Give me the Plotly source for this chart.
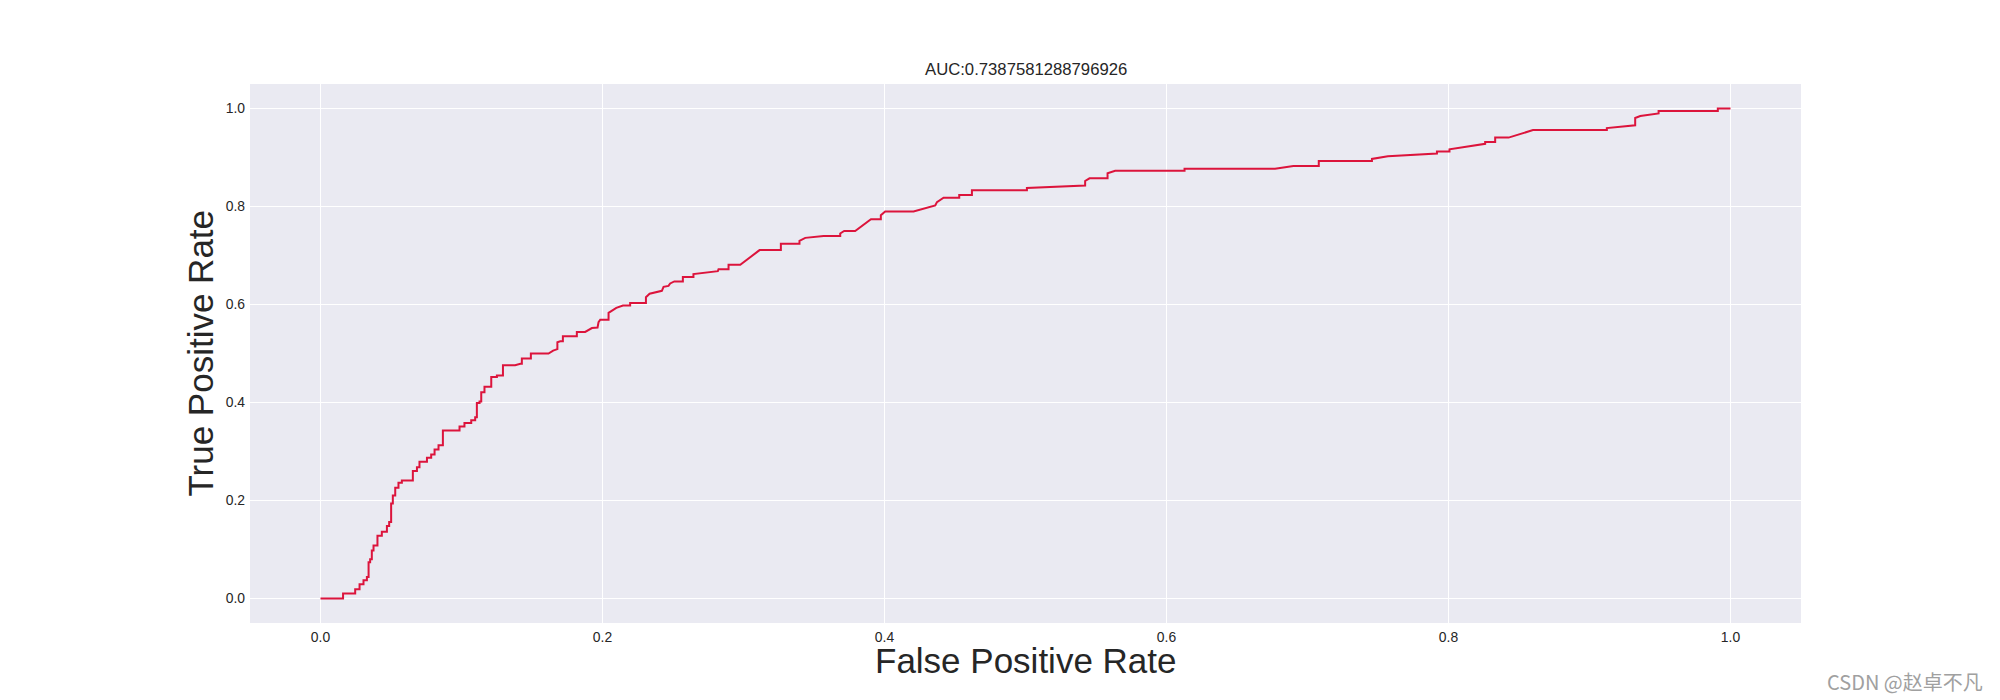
import plotly.graph_objects as go

# ROC curve corner points
fpr = [0.0, 0.016, 0.016, 0.0246, 0.0246, 0.0277, 0.0277, 0.0305, 0.0305, 0.0329, 0.0329,
       0.0341, 0.0341, 0.0352, 0.0352, 0.0364, 0.0364, 0.0376, 0.0376, 0.0404, 0.0404,
       0.0435, 0.0435, 0.0471, 0.0471, 0.0487, 0.0487, 0.0501, 0.0501, 0.0513, 0.0513,
       0.0530, 0.0530, 0.0553, 0.0553, 0.0577, 0.0577, 0.0655, 0.0655, 0.0684, 0.0684,
       0.0702, 0.0702, 0.0755, 0.0755, 0.0785, 0.0785, 0.0809, 0.0809, 0.0837, 0.0837,
       0.0868, 0.0868, 0.0986, 0.0986, 0.1021, 0.1021, 0.1069, 0.1069, 0.1097, 0.1097,
       0.1109, 0.1109, 0.1128, 0.1128, 0.1140, 0.1140, 0.1163, 0.1163, 0.1211, 0.1211,
       0.1251, 0.1251, 0.1294, 0.1294, 0.138, 0.1418, 0.1428, 0.1428, 0.1492, 0.1492,
       0.1617, 0.165, 0.168, 0.168, 0.170, 0.1719, 0.1719, 0.1818, 0.1818, 0.1877, 0.1925,
       0.1965, 0.1972, 0.1984, 0.2043, 0.2043, 0.2067, 0.2098, 0.2145, 0.2196, 0.2196,
       0.2308, 0.2308, 0.2334, 0.2421, 0.2433, 0.2468, 0.2480, 0.2509, 0.257, 0.257,
       0.2645, 0.2645, 0.2818, 0.2823, 0.2894, 0.2894, 0.2977, 0.3114, 0.3265, 0.3265,
       0.3397, 0.3397, 0.3438, 0.3568, 0.3686, 0.3686, 0.3714, 0.3792, 0.3904, 0.3974,
       0.3974, 0.4005, 0.4206, 0.436, 0.4372, 0.4419, 0.453, 0.453, 0.462, 0.462, 0.501,
       0.501, 0.5423, 0.5423, 0.5454, 0.5582, 0.5582, 0.5636, 0.6128, 0.6128, 0.677,
       0.690, 0.708, 0.708, 0.7457, 0.7457, 0.757, 0.7918, 0.7918, 0.8007, 0.8007, 0.826,
       0.826, 0.8331, 0.8331, 0.8426, 0.8599, 0.9123, 0.9123, 0.9324, 0.9324, 0.936,
       0.949, 0.949, 0.991, 0.991, 1.0]
tpr = [0.0, 0.0, 0.010, 0.010, 0.019, 0.019, 0.029, 0.029, 0.037, 0.037, 0.044,
       0.044, 0.074, 0.074, 0.080, 0.080, 0.098, 0.098, 0.108, 0.108, 0.128,
       0.128, 0.136, 0.136, 0.148, 0.148, 0.156, 0.156, 0.194, 0.194, 0.210,
       0.210, 0.226, 0.226, 0.236, 0.236, 0.241, 0.241, 0.260, 0.260, 0.268,
       0.268, 0.279, 0.279, 0.287, 0.287, 0.294, 0.294, 0.304, 0.304, 0.313,
       0.313, 0.343, 0.343, 0.351, 0.351, 0.358, 0.358, 0.364, 0.364, 0.370,
       0.370, 0.399, 0.399, 0.402, 0.402, 0.421, 0.421, 0.432, 0.432, 0.452,
       0.452, 0.455, 0.455, 0.476, 0.476, 0.479, 0.479, 0.490, 0.490, 0.500,
       0.500, 0.506, 0.509, 0.523, 0.525, 0.525, 0.535, 0.535, 0.544, 0.544, 0.552,
       0.553, 0.564, 0.569, 0.569, 0.583, 0.588, 0.593, 0.598, 0.598, 0.603,
       0.603, 0.615, 0.622, 0.628, 0.636, 0.638, 0.643, 0.647, 0.647, 0.656,
       0.656, 0.662, 0.668, 0.672, 0.672, 0.681, 0.681, 0.711, 0.711, 0.724,
       0.724, 0.730, 0.736, 0.740, 0.740, 0.745, 0.750, 0.750, 0.774, 0.774,
       0.782, 0.790, 0.790, 0.802, 0.809, 0.818, 0.818, 0.8235, 0.8235, 0.833, 0.833,
       0.838, 0.843, 0.852, 0.8576, 0.8576, 0.868, 0.873, 0.873, 0.877, 0.877,
       0.8827, 0.8827, 0.893, 0.893, 0.897, 0.9024, 0.908, 0.912, 0.912, 0.9167, 0.928,
       0.9317, 0.9317, 0.9406, 0.9406, 0.956, 0.956, 0.960, 0.9657, 0.9806, 0.9847,
       0.990, 0.995, 0.995, 1.0, 1.0]

tick_vals = [0.0, 0.2, 0.4, 0.6, 0.8, 1.0]
tick_text = ["0.0", "0.2", "0.4", "0.6", "0.8", "1.0"]
auc_value = "0.7387581288796926"

FONT = "Liberation Sans, Arial, sans-serif"
TXT = "#262626"

fig = go.Figure()
fig.add_trace(go.Scatter(x=fpr, y=tpr, mode="lines",
                         line=dict(color="#DC143C", width=2), showlegend=False))

axis_common = dict(range=[-0.05, 1.05], tickvals=tick_vals, ticktext=tick_text,
                   showgrid=True, gridcolor="white", gridwidth=1,
                   zeroline=False, showline=False, ticks="",
                   tickfont=dict(family=FONT, size=13.9, color=TXT))
fig.update_layout(
    width=2000, height=700,
    margin=dict(l=250, r=199, t=84, b=77),
    paper_bgcolor="white", plot_bgcolor="#EAEAF2",
    xaxis=dict(**axis_common, ticklabelstandoff=4),
    yaxis=dict(**axis_common, ticklabelstandoff=4),
    annotations=[
        dict(text="AUC:" + auc_value, x=0.5, y=1.026, xref="paper", yref="paper",
             xanchor="center", yanchor="middle", showarrow=False,
             font=dict(family=FONT, size=16.7, color=TXT)),
        dict(text="False Positive Rate", x=0.5, y=-0.0705, xref="paper", yref="paper",
             xanchor="center", yanchor="middle", showarrow=False,
             font=dict(family=FONT, size=35, color=TXT)),
        dict(text="True Positive Rate", x=-0.0322, y=0.5, xref="paper", yref="paper",
             xanchor="center", yanchor="middle", showarrow=False, textangle=-90,
             font=dict(family=FONT, size=35, color=TXT)),
        dict(text="CSDN @赵卓不凡", x=(1985 - 250) / 1551, y=(623 - 681) / 539,
             xref="paper", yref="paper", xanchor="right", yanchor="middle",
             showarrow=False,
             font=dict(family="Noto Sans CJK SC, sans-serif", size=20, color="#a0a0a0")),
    ],
)

fig.write_html("out.html")
